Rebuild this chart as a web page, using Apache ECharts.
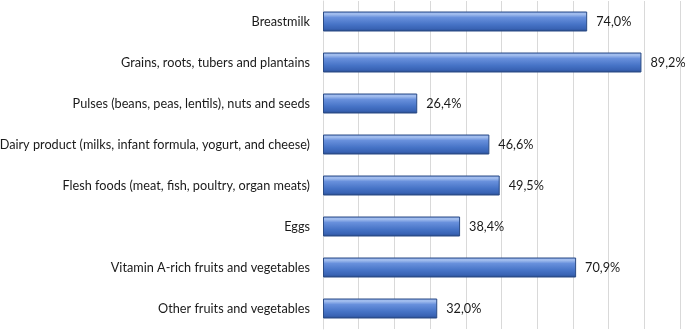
<!DOCTYPE html>
<html>
<head>
<meta charset="utf-8">
<script src="https://cdn.jsdelivr.net/npm/echarts@6/dist/echarts.min.js"></script>
<style>
html,body{margin:0;padding:0;background:#fff;}
#chart{width:685px;height:330px;}
</style>
</head>
<body>
<div id="chart"></div>
<script>
const categories = [
  "Breastmilk",
  "Grains, roots, tubers and plantains",
  "Pulses (beans, peas, lentils), nuts and seeds",
  "Dairy product (milks, infant formula, yogurt, and cheese)",
  "Flesh foods (meat, fish, poultry, organ meats)",
  "Eggs",
  "Vitamin A-rich fruits and vegetables",
  "Other fruits and vegetables"
];
const values = [74.0, 89.2, 26.4, 46.6, 49.5, 38.4, 70.9, 32.0];

const chart = echarts.init(document.getElementById('chart'), null, {renderer: 'canvas'});
const barGrad = new echarts.graphic.LinearGradient(0, 0, 0, 1, [
  {offset: 0, color: '#7b9fe2'},
  {offset: 0.12, color: '#a8c2f0'},
  {offset: 0.3, color: '#6890dc'},
  {offset: 0.65, color: '#4673c6'},
  {offset: 0.88, color: '#3862b3'},
  {offset: 1, color: '#23447f'}
]);
chart.setOption({
  animation: false,
  backgroundColor: '#fff',
  grid: {left: 323, right: 5, top: 1, bottom: 1, containLabel: false, outerBoundsMode: 'none'},
  xAxis: {
    type: 'value', min: 0, max: 100, interval: 10,
    axisLabel: {show: false},
    axisLine: {show: false},
    axisTick: {show: false},
    splitLine: {show: true, lineStyle: {color: '#d9d9d9', width: 1}}
  },
  yAxis: {
    type: 'category', inverse: true, data: categories,
    axisLine: {show: true, lineStyle: {color: '#d9d9d9', width: 1}},
    axisTick: {show: false},
    axisLabel: {color: '#1a1a1a', fontFamily: 'Lato', fontSize: 12.7, margin: 13}
  },
  series: [{
    type: 'bar',
    data: values,
    barWidth: 20,
    itemStyle: {color: barGrad, borderColor: '#2b4b85', borderWidth: 1},
    label: {
      show: true, position: 'right', distance: 9,
      color: '#1a1a1a', fontFamily: 'Lato', fontSize: 12.7,
      formatter: p => p.value.toFixed(1).replace('.', ',') + '%'
    }
  }]
});
</script>
</body>
</html>
